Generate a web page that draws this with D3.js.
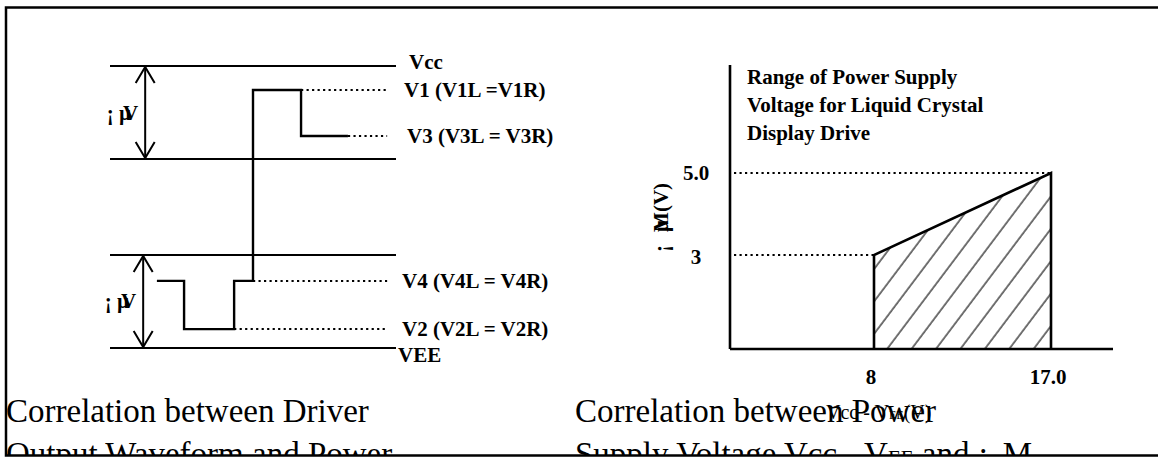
<!DOCTYPE html>
<html><head><meta charset="utf-8">
<script src="https://cdn.jsdelivr.net/npm/d3@7"></script>
<style>
body{margin:0;background:#fff}
svg{display:block}
text{font-family:"Liberation Serif","Times New Roman",serif;fill:#000}
</style>
</head><body>
<svg id="c" width="1158" height="458"></svg>
<script>
// ---------- DATA ----------
// Left diagram: voltage levels (relative units) and driver waveform
const levelNames  = ["Vcc", "V1", "V3", "bandTopLow", "bandBotHigh", "V4", "V2", "VEE"];
const levelValues = [10, 9.15, 7.52, 6.7, 3.3, 2.38, 0.67, 0];
const railLevels  = ["Vcc", "bandTopLow", "bandBotHigh", "VEE"];
const waveTimes   = [1.64, 2.59, 2.59, 4.34, 4.34, 5.0, 5.0, 6.68, 6.68, 8.32];
const waveLevels  = ["V4", "V4", "V2", "V2", "V4", "V4", "V1", "V1", "V3", "V3"];
const dottedLevels = ["V1", "V3", "V4", "V2"];
const dottedStart  = [6.68, 8.32, 5.0, 4.34];
const dottedEnd    = 9.69;
const labelLevels = ["Vcc", "V1", "V3", "V4", "V2", "VEE"];
const labelTexts  = ["Vcc", "V1 (V1L =V1R)", "V3 (V3L = V3R)", "V4 (V4L = V4R)", "V2 (V2L = V2R)", "VEE"];
const spanFrom = ["Vcc", "bandBotHigh"];
const spanTo   = ["bandTopLow", "VEE"];
const spanTime = [1.23, 1.16];

// Right diagram: operating range
const rangeVccVee = [8, 17.0];
const rangeLcd    = [3, 5.0];
const xTickValues = [8, 17.0];
const xTickLabels = ["8", "17.0"];
const yTickValues = [3, 5.0];
const yTickLabels = ["3", "5.0"];
const titleLines  = ["Range of Power Supply", "Voltage for Liquid Crystal", "Display Drive"];

// ---------- DRAW ----------
const svg = d3.select("#c");
const defs = svg.append("defs");
defs.append("clipPath").attr("id","frameClip").append("rect")
  .attr("x",0).attr("y",0).attr("width",1158).attr("height",455);
const pat = defs.append("pattern").attr("id","hatch")
  .attr("patternUnits","userSpaceOnUse").attr("width",19.5).attr("height",19.5)
  .attr("patternTransform","rotate(37)");
pat.append("line").attr("x1",2).attr("y1",0).attr("x2",2).attr("y2",19.5)
  .attr("stroke","#000").attr("stroke-width",1.1);

const lvl = {};
levelNames.forEach((n,i)=>lvl[n]=levelValues[i]);

const xL = d3.scaleLinear().domain([0,10]).range([110,396]);
const yL = d3.scaleLinear().domain([0,10]).range([348,66]);

const gL = svg.append("g");
gL.selectAll("line.rail").data(railLevels).join("line")
  .attr("x1",xL(0)).attr("x2",xL(10))
  .attr("y1",d=>yL(lvl[d])).attr("y2",d=>yL(lvl[d]))
  .attr("stroke","#000").attr("stroke-width",2);
gL.selectAll("line.dot").data(dottedLevels).join("line")
  .attr("x1",(d,i)=>xL(dottedStart[i])).attr("x2",xL(dottedEnd))
  .attr("y1",d=>yL(lvl[d])).attr("y2",d=>yL(lvl[d]))
  .attr("stroke","#000").attr("stroke-width",2).attr("stroke-dasharray","2.2,3.3");
const wave = waveTimes.map((t,i)=>[t, lvl[waveLevels[i]]]);
gL.append("path").attr("d", d3.line().x(d=>xL(d[0])).y(d=>yL(d[1]))(wave))
  .attr("fill","none").attr("stroke","#000").attr("stroke-width",2.4);
spanTime.forEach((t,i)=>{
  const x = xL(t), y1 = yL(lvl[spanFrom[i]]), y2 = yL(lvl[spanTo[i]]);
  gL.append("line").attr("x1",x).attr("x2",x).attr("y1",y1).attr("y2",y2)
    .attr("stroke","#000").attr("stroke-width",2);
  gL.append("path").attr("d",`M${x-9.5},${y1+17}L${x},${y1+1}L${x+9.5},${y1+17}`)
    .attr("fill","none").attr("stroke","#000").attr("stroke-width",2);
  gL.append("path").attr("d",`M${x-9.5},${y2-17}L${x},${y2-1}L${x+9.5},${y2-17}`)
    .attr("fill","none").attr("stroke","#000").attr("stroke-width",2);
  const ly = (y1+y2)/2 + 7;
  const t1 = gL.append("text").attr("x",x-7).attr("y",ly).attr("text-anchor","end")
    .attr("font-weight","bold").attr("font-size",21);
  t1.append("tspan").text("¡ µ");
  t1.append("tspan").attr("dx",-8).text("V");
});
const labelDx = {Vcc:13, V1:8, V3:11, V4:6, V2:6, VEE:2};
gL.selectAll("text.lab").data(labelLevels).join("text")
  .attr("x",d=>xL(10)+labelDx[d]).attr("y",d=>yL(lvl[d])+7 - (d==="Vcc"?4:0) + (d==="VEE"?7:0))
  .attr("font-weight","bold").attr("font-size",21)
  .text((d,i)=>labelTexts[i]);

// ---------- right diagram ----------
const plot = {left:730, right:1113, top:65, bottom:349};
const xR = d3.scaleLinear().domain(rangeVccVee).range([874,1051]);
const yR = d3.scaleLinear().domain(rangeLcd).range([255,173]);
const gR = svg.append("g");

const poly = [[xR(rangeVccVee[0]),plot.bottom],[xR(rangeVccVee[0]),yR(rangeLcd[0])],
              [xR(rangeVccVee[1]),yR(rangeLcd[1])],[xR(rangeVccVee[1]),plot.bottom]];
gR.append("path").attr("d","M"+poly.map(p=>p.join(",")).join("L")+"Z")
  .attr("fill","url(#hatch)").attr("stroke","none");
gR.append("path").attr("d","M"+poly.map(p=>p.join(",")).join("L"))
  .attr("fill","none").attr("stroke","#000").attr("stroke-width",2.6).attr("stroke-linejoin","miter");
yTickValues.forEach((v,i)=>{
  gR.append("line").attr("x1",plot.left+4).attr("x2",xR(xTickValues[i]))
    .attr("y1",yR(v)).attr("y2",yR(v))
    .attr("stroke","#000").attr("stroke-width",2).attr("stroke-dasharray","2.2,3.3");
});
gR.append("line").attr("x1",plot.left).attr("x2",plot.left).attr("y1",plot.top).attr("y2",plot.bottom)
  .attr("stroke","#000").attr("stroke-width",2.6);
gR.append("line").attr("x1",plot.left).attr("x2",plot.right).attr("y1",plot.bottom).attr("y2",plot.bottom)
  .attr("stroke","#000").attr("stroke-width",2.6);
gR.selectAll("text.xt").data(xTickValues).join("text")
  .attr("x",d=>xR(d)-3).attr("y",384).attr("text-anchor","middle")
  .attr("font-weight","bold").attr("font-size",21).text((d,i)=>xTickLabels[i]);
gR.selectAll("text.yt").data(yTickValues).join("text")
  .attr("x",696).attr("y",(d,i)=>yR(d)+7+(i===0?2:0)).attr("text-anchor","middle")
  .attr("font-weight","bold").attr("font-size",21).text((d,i)=>yTickLabels[i]);
gR.selectAll("text.tt").data(titleLines).join("text")
  .attr("x",747).attr("y",(d,i)=>84+i*28)
  .attr("font-weight","bold").attr("font-size",21).text(d=>d);
const yl = gR.append("text").attr("transform","translate(668,252) rotate(-90)")
  .attr("font-weight","bold").attr("font-size",21);
yl.append("tspan").text("¡");
yl.append("tspan").attr("dx",13).text("µ");
yl.append("tspan").attr("dx",-12).text("M(V)");

// ---------- captions ----------
const gC = svg.append("g").attr("clip-path","url(#frameClip)");
gC.append("text").attr("x",6).attr("y",422).attr("font-size",33).text("Correlation between Driver");
gC.append("text").attr("x",6).attr("y",465).attr("font-size",33).text("Output Waveform and Power");
gC.append("text").attr("x",575).attr("y",422).attr("font-size",33).text("Correlation between Power");
const c2 = gC.append("text").attr("x",575).attr("y",465).attr("font-size",33);
c2.append("tspan").text("Supply Voltage Vcc - V");
c2.append("tspan").attr("font-size",21).text("EE");
c2.append("tspan").text(" and ¡");
c2.append("tspan").attr("dx",14).text("M");
const xl = svg.append("text").attr("x",826).attr("y",419).attr("font-size",20);
xl.append("tspan").text("Vcc - V");
xl.append("tspan").attr("font-size",12).text("EE");
xl.append("tspan").text("(V)");

// ---------- frame ----------
svg.append("path").attr("d","M1160,7.5H6V455.5H1160")
  .attr("fill","none").attr("stroke","#000").attr("stroke-width",2.5);
</script>
</body></html>
